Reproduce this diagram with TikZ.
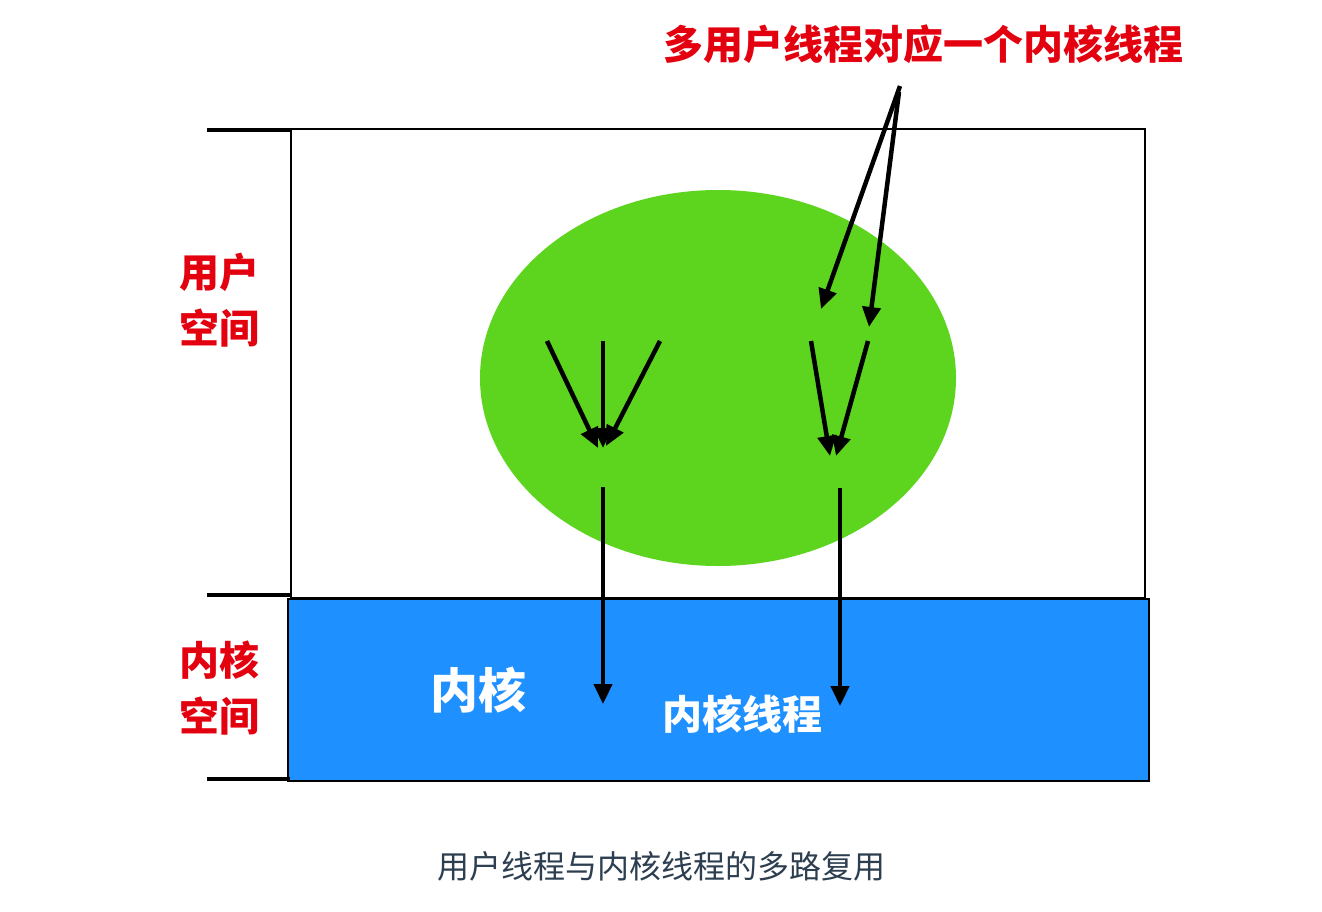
\documentclass[tikz,border=0pt]{standalone}
\usepackage{fontspec}
\newfontfamily\cjk{Noto Sans CJK SC}
\usetikzlibrary{arrows.meta,positioning}
\definecolor{spacered}{HTML}{E3000F}
\definecolor{usergreen}{HTML}{5DD41D}
\definecolor{kernelblue}{HTML}{1E90FF}
\definecolor{captiongray}{HTML}{2C3E50}
\begin{document}
\begin{tikzpicture}[x=1pt,y=-1pt]
      \useasboundingbox (0,0) rectangle (1322,912);
      % boxes and the ellipse
      \draw[line width=2pt, fill=white] (291,129) rectangle (1145,598);
      \fill[usergreen] (718,378) ellipse [x radius=238, y radius=188];
      \node (kernel)[draw=black, line width=2pt, fill=kernelblue, minimum width=861pt,
        minimum height=182pt, inner sep=0pt] at (718.5,690) {};
      \begin{scope}[line width=3.5pt]
        \draw (207,130) -- (291,130);
        \draw (207,595) -- (291,595);
        \draw (207,779) -- (290,779);
      \end{scope}
      \begin{scope}[every node/.style={font=\cjk\bfseries, inner sep=0pt, align=center}]
        \node (title)[text=spacered, font=\cjk\bfseries\fontsize{40}{44}\selectfont] at (923,44) {多用户线程对应一个内核线程};
        \node (user)[text=spacered, font=\cjk\bfseries\fontsize{40}{56}\selectfont] at (219,300) {用户\\空间};
        \node (kspace)[text=spacered, font=\cjk\bfseries\fontsize{40}{56}\selectfont] at (219,688) {内核\\空间};
        \node (klabel)[text=white, font=\cjk\bfseries\fontsize{48}{50}\selectfont] at (478,690) {内核};
        \node (kthread)[text=white, font=\cjk\bfseries\fontsize{40}{44}\selectfont] at (742,714) {内核线程};
        \node (caption)[text=captiongray, font=\cjk\fontsize{32}{34}\selectfont] at (661,866) {用户线程与内核线程的多路复用};
      \end{scope}
      % thread ends
      \coordinate (t1) at (547,341);
      \coordinate (t2) at (603,341);
      \coordinate (t3) at (660,341);
      \coordinate (t4) at (811,341);
      \coordinate (t5) at (868,341);
      \coordinate (m1) at (598,448);
      \coordinate (m2) at (603,448);
      \coordinate (m3) at (606,446);
      \coordinate (m4) at (830,456);
      \coordinate (m5) at (836,456);
      \coordinate (s1) at (603,487);
      \coordinate (s2) at (840,488);
      \coordinate (k1) at (603,704);
      \coordinate (k2) at (840,706);
      \coordinate (n1) at (900,86);
      \coordinate (n2) at (899,92);
      \coordinate (p1) at (821,309);
      \coordinate (p2) at (869,327);
      \begin{scope}[arrow/.style={draw=black, line width=4.5pt, -{Triangle[length=20pt,width=18pt]}}]
        \draw[arrow] (t1) -- (m1);
        \draw[arrow] (t2) -- (m2);
        \draw[arrow] (t3) -- (m3);
        \draw[arrow] (t4) -- (m4);
        \draw[arrow] (t5) -- (m5);
        \draw[arrow] (s1) -- (k1);
        \draw[arrow] (s2) -- (k2);
        \draw[arrow] (n1) -- (p1);
        \draw[arrow] (n2) -- (p2);
      \end{scope}
    \end{tikzpicture}
\end{document}
